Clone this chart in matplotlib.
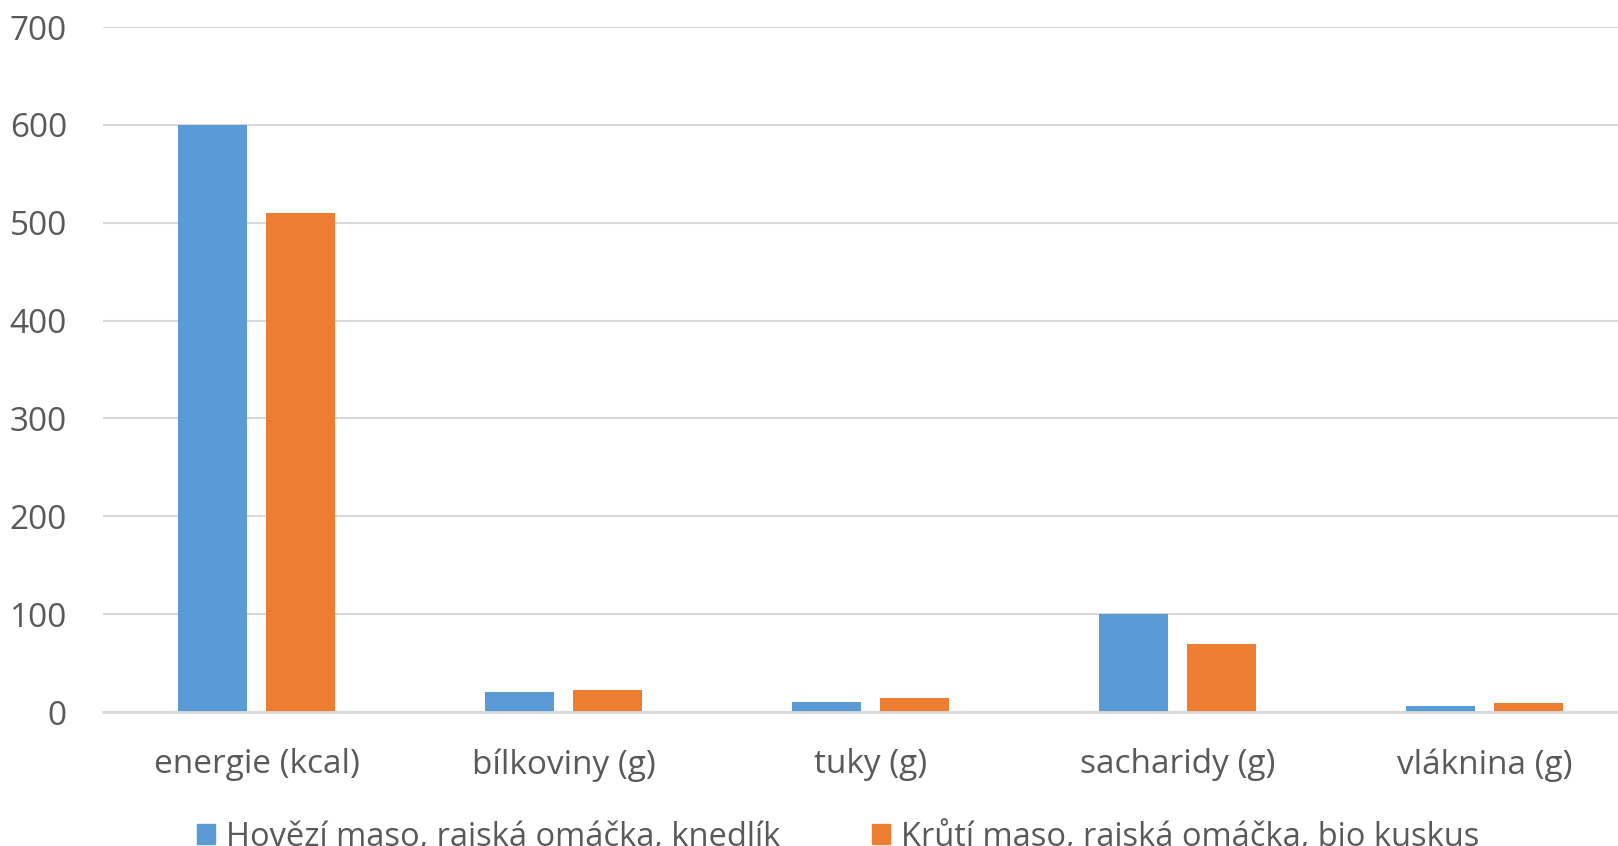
import numpy as np
import matplotlib.pyplot as plt
from matplotlib.patches import Patch

# ========== 数据 ==========
categories = ['energie (kcal)', 'bílkoviny (g)', 'tuky (g)', 'sacharidy (g)', 'vláknina (g)']
series_names = ['Hovězí maso, rajská omáčka, knedlík',
                'Krůtí maso, rajská omáčka, bio kuskus']
hovezi = [600, 20, 10, 100, 6]
kruti = [510, 22, 14, 70, 9]
y_ticks = [0, 100, 200, 300, 400, 500, 600, 700]

colors = ['#5B9BD5', '#ED7D31']
text_color = '#595959'
grid_color = '#D9D9D9'

plt.rcParams['font.family'] = ['Open Sans', 'DejaVu Sans']

# ========== 绘图 ==========
fig = plt.figure(figsize=(16.18, 8.46), dpi=100)
ax = fig.add_axes([103 / 1618, 134 / 846, 1535 / 1618, 685 / 846])

x = np.arange(len(categories))
w = 0.225
off = 0.143
ax.bar(x - off, hovezi, w, color=colors[0], zorder=3)
ax.bar(x + off, kruti, w, color=colors[1], zorder=3)

ax.set_xlim(-0.5, len(categories) - 0.5)
ax.set_ylim(0, 700)
ax.set_yticks(y_ticks)
ax.set_xticks(x)
ax.set_xticklabels(categories)

ax.yaxis.grid(True, color=grid_color, linewidth=1.5, zorder=0)
ax.set_axisbelow(True)
for s in ['top', 'right', 'left']:
    ax.spines[s].set_visible(False)
ax.spines['bottom'].set_color(grid_color)
ax.spines['bottom'].set_linewidth(2)
ax.spines['bottom'].set_zorder(4)

ax.tick_params(axis='both', length=0, labelsize=24, labelcolor=text_color)
ax.tick_params(axis='y', pad=26)
ax.tick_params(axis='x', pad=26)

handles = [Patch(color=c) for c in colors]
fig.legend(handles, series_names, loc='center', bbox_to_anchor=(0.518, 0.012),
           ncol=2, frameon=False, fontsize=23.5, labelcolor=text_color,
           handlelength=0.55, handleheight=0.55, handletextpad=0.35, columnspacing=2.8)

plt.savefig('out.png', dpi=100)
